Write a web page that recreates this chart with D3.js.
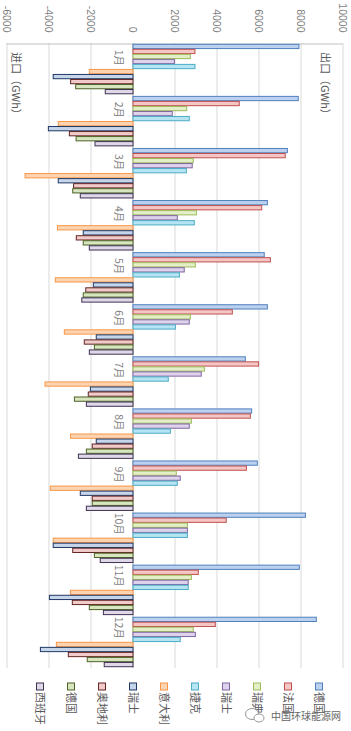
<!DOCTYPE html>
<html>
<head>
<meta charset="utf-8">
<script src="https://cdn.jsdelivr.net/npm/d3@7"></script>
<style>
body { margin: 0; background: #fff; }
text { font-family: "Noto Sans CJK SC", "Noto Sans", sans-serif; }
</style>
</head>
<body>
<script>
// 月份 + 各国出口/进口电量 (GWh)
let months = ["1月", "2月", "3月", "4月", "5月", "6月", "7月", "8月", "9月", "10月", "11月", "12月"]
let seriesNames = ["德国", "法国", "瑞典", "瑞士", "捷克", "意大利", "瑞士", "奥地利", "德国", "西班牙"]
let ticks = [-6000, -4000, -2000, 0, 2000, 4000, 6000, 8000, 10000]

// 出口
let expDE = [7900, 7870, 7350, 6400, 6250, 6400, 5350, 5650, 5920, 8210, 7920, 8730]
let expFR = [2950, 5060, 7250, 6130, 6540, 4730, 5980, 5590, 5400, 4440, 3110, 3920]
let expSE = [2730, 2560, 2870, 3020, 2970, 2730, 3400, 2780, 2060, 2590, 2780, 2870]
let expCH = [1970, 1870, 2820, 2110, 2440, 2680, 3250, 2680, 2250, 2590, 2630, 2970]
let expCZ = [2950, 2680, 2540, 2920, 2210, 2020, 1680, 1780, 2110, 2590, 2630, 2250]
// 进口
let impIT = [-2080, -3560, -5140, -3600, -3700, -3270, -4190, -2980, -3940, -3800, -2980, -3650]
let impCH = [-3800, -4030, -3560, -2370, -1890, -1750, -2030, -1750, -2510, -3800, -3980, -4410]
let impAT = [-2970, -3030, -2830, -2700, -2250, -2320, -2130, -1940, -1940, -2870, -2890, -3080]
let impDE = [-2730, -2710, -2870, -2370, -2370, -1840, -2790, -2220, -1940, -1840, -2080, -2180]
let impES = [-1320, -1810, -2510, -2080, -2440, -2080, -2220, -2600, -2220, -1560, -1410, -1370]

let seriesValues = [expDE, expFR, expSE, expCH, expCZ, impIT, impCH, impAT, impDE, impES]

let fills = ["#bcd0f0", "#f4c6c5", "#e4efc8", "#ddd3ea", "#b6e4f2", "#fcd4b2", "#c6d5ea", "#f1cbc9", "#d7e6bf", "#ded8e8"]
let strokes = ["#4f81bd", "#c0504d", "#9bbb59", "#8064a2", "#4bacc6", "#f79646", "#1f3864", "#632523", "#4f6228", "#3f3151"]

let W = 351, H = 731

let svg = d3.select("body").append("svg")
    .attr("width", W)
    .attr("height", H)

// 原图是柱状图, 整体顺时针旋转了90度
let g = svg.append("g")
    .attr("transform", "translate(" + W + ",0) rotate(90)")

let y = d3.scaleLinear().domain([-6000, 10000]).range([344, 8])
let x0 = d3.scaleBand().domain(months).range([43, 668]).paddingInner(0.05).paddingOuter(0.025)
let x1 = d3.scaleBand().domain(d3.range(seriesNames.length)).range([0, x0.bandwidth()]).paddingInner(0.15)

// 网格线
g.append("g").selectAll("line")
    .data(ticks)
    .enter()
    .append("line")
        .attr("x1", 43)
        .attr("x2", 668)
        .attr("y1", d => y(d))
        .attr("y2", d => y(d))
        .style("stroke", "#d9d9d9")
        .style("stroke-width", 1)

let axis = g.append("g")
    .attr("transform", "translate(43.5,0)")
    .call(d3.axisLeft(y).tickValues(ticks).tickSize(0).tickPadding(11).tickFormat(d => String(d)))
axis.select(".domain").style("stroke", "#bfbfbf")
axis.selectAll("text")
    .style("font-size", "10.5px")
    .style("fill", "#7f7f7f")
    .style("font-family", "'Liberation Sans', 'DejaVu Sans', sans-serif")

// 零线
g.append("line")
    .attr("x1", 43)
    .attr("x2", 668)
    .attr("y1", y(0))
    .attr("y2", y(0))
    .style("stroke", "#bfbfbf")

let rows = []
seriesValues.forEach((vals, i) => {
    vals.forEach((v, j) => {
        rows.push({ s: i, month: months[j], value: v })
    })
})

g.append("g").selectAll("rect")
    .data(rows)
    .enter()
    .append("rect")
        .attr("x", d => x0(d.month) + x1(d.s))
        .attr("width", x1.bandwidth())
        .attr("y", d => y(Math.max(d.value, 0)))
        .attr("height", d => Math.abs(y(d.value) - y(0)))
        .style("fill", d => fills[d.s])
        .style("stroke", d => strokes[d.s])
        .style("stroke-width", 1)

// 月份标签
g.append("g").selectAll("text")
    .data(months)
    .enter()
    .append("text")
        .text(d => d)
        .attr("x", d => x0(d) + x0.bandwidth() / 2 - 3)
        .attr("y", y(0) + 18)
        .attr("text-anchor", "end")
        .style("font-size", "10.5px")
        .style("fill", "#7f7f7f")

g.append("text")
    .text("出口（GWh）")
    .attr("x", 52)
    .attr("y", 30)
    .style("font-size", "11px")
    .style("fill", "#595959")

g.append("text")
    .text("进口（GWh）")
    .attr("x", 52)
    .attr("y", 339)
    .style("font-size", "11px")
    .style("fill", "#595959")

// 图例
let legend = g.append("g").selectAll("g")
    .data(seriesNames)
    .enter()
    .append("g")
        .attr("transform", (d, i) => "translate(683," + (32 + 31 * i) + ")")

legend.append("rect")
    .attr("x", 0)
    .attr("y", -3.5)
    .attr("width", 7)
    .attr("height", 7)
    .style("fill", (d, i) => fills[i])
    .style("stroke", (d, i) => strokes[i])

legend.append("text")
    .text(d => d)
    .attr("x", 9)
    .attr("y", 4)
    .style("font-size", "11px")
    .style("fill", "#595959")

// 水印
let wm = svg.append("g")
wm.append("ellipse")
    .attr("cx", 252).attr("cy", 714).attr("rx", 6.5).attr("ry", 5.5)
    .style("fill", "#fff").style("stroke", "#999")
wm.append("ellipse")
    .attr("cx", 259).attr("cy", 718).attr("rx", 5).attr("ry", 4)
    .style("fill", "#fff").style("stroke", "#999")
wm.append("text")
    .text("中国环球能源网")
    .attr("x", 271)
    .attr("y", 720)
    .style("font-size", "10px")
    .style("fill", "#666")
</script>
</body>
</html>
